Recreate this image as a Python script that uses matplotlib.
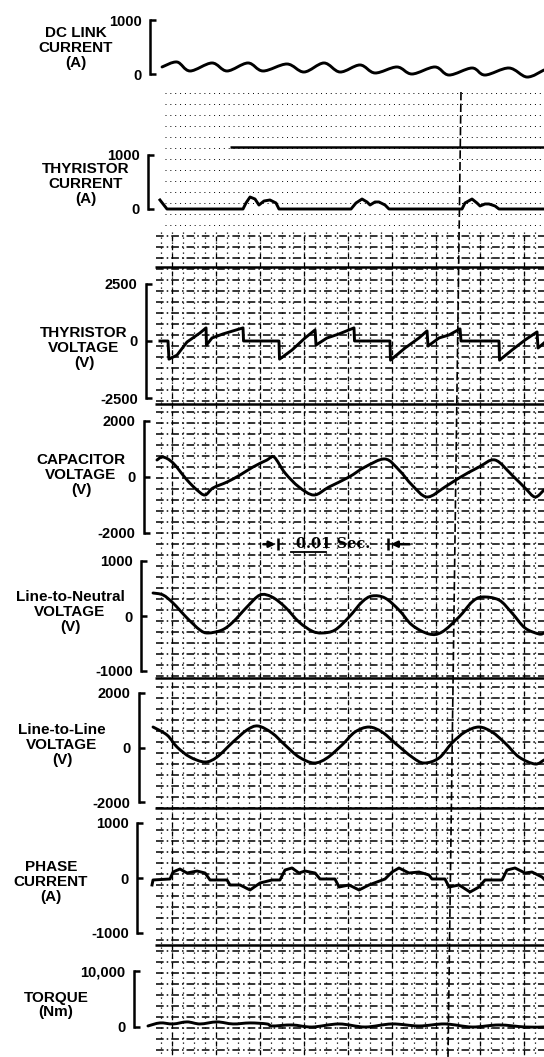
import numpy as np
import matplotlib.pyplot as plt
from matplotlib.path import Path
from matplotlib.patches import PathPatch

W, H = 544, 1057

# ---- traces, time in ms ----
dc_t = [0.64, 2.0, 3.18, 5.18, 6.55, 8.45, 9.82, 12.0, 13.55, 15.36, 16.82,
        18.64, 20.0, 22.0, 23.36, 25.45, 26.73, 28.82, 30.0, 32.18, 33.82, 35.36]
dc_i = [130, 222, 56, 204, 56, 204, 56, 185, 37, 204, 37,
        167, 19, 130, 0, 130, -19, 111, -19, 111, -56, 74]

thc_t = [0.45, 1.09, 8.0, 8.27, 8.64, 9.09, 9.45, 9.91, 10.45, 11.0, 11.27,
         17.82, 18.27, 18.82, 19.27, 19.55, 20.0, 20.36, 20.91, 21.27,
         27.91, 28.18, 28.82, 29.27, 29.55, 30.0, 30.36, 30.91, 31.27, 35.36]
thc_i = [167, 0, 0, 111, 222, 185, 74, 148, 167, 111, 0,
         0, 111, 185, 130, 74, 130, 130, 74, 0,
         0, 111, 185, 111, 56, 93, 93, 56, 0, 0]

thv_t = [0.45, 1.18, 1.27, 2.0, 2.91, 4.09, 4.64, 4.68, 5.18, 6.18, 7.09, 8.0, 8.05,
         11.27, 11.32, 12.45, 13.64, 14.55, 14.64, 15.64, 16.73, 18.09, 18.14,
         21.36, 21.41, 22.73, 24.0, 24.73, 24.82, 25.82, 26.73, 27.73, 27.82,
         31.27, 31.32, 32.45, 33.64, 34.73, 34.82, 35.36]
thv_v = [0, 0, -796, -619, -44, 354, 575, -177, 133, 309, 442, 575, 0,
         0, -796, -398, 133, 486, -177, 133, 309, 575, 0,
         0, -840, -309, 133, 442, -221, 133, 265, 530, 0,
         0, -840, -398, 44, 398, -309, -88]

cap_t = [0.18, 0.73, 1.64, 2.91, 3.82, 4.55, 5.27, 6.55, 7.73, 8.91, 10.18, 10.82,
         11.82, 13.09, 14.45, 15.82, 17.64, 19.09, 20.91, 22.18, 23.36, 24.73,
         26.36, 27.64, 29.45, 30.91, 32.45, 33.64, 34.55, 35.36]
cap_v = [607, 714, 500, -107, -464, -643, -393, -179, 71, 357, 607, 714,
         143, -357, -643, -357, 0, 357, 643, 250, -286, -714,
         -357, -36, 357, 607, 71, -393, -714, -464]

ln_t = [-0.18, 0.73, 1.64, 2.91, 4.09, 4.82, 6.09, 7.09, 8.36, 9.55, 10.64,
        11.82, 13.09, 14.27, 15.18, 16.36, 17.64, 18.82, 19.73, 20.91, 22.18,
        23.36, 24.91, 26.09, 27.64, 28.82, 29.73, 31.27, 32.45, 33.64, 34.91, 35.36]
ln_v = [418, 382, 236, -36, -255, -309, -255, -109, 164, 382, 345,
        164, -109, -273, -309, -255, -18, 255, 364, 327, 109,
        -164, -327, -291, -18, 255, 345, 291, 55, -218, -327, -309]

ll_t = [-0.18, 1.09, 2.0, 3.18, 4.55, 5.64, 7.09, 8.36, 9.36, 10.64, 11.82,
        13.09, 14.45, 15.64, 17.0, 18.18, 19.45, 20.64, 21.82, 23.36, 24.45,
        25.82, 27.0, 28.18, 29.45, 30.64, 31.82, 33.09, 34.55, 35.36]
ll_v = [752, 459, 18, -349, -532, -349, 202, 642, 789, 532, 92,
        -349, -569, -385, 92, 569, 752, 569, 165, -349, -569,
        -385, 165, 569, 752, 569, 165, -349, -606, -459]

ph_t = [-0.27, -0.18, 1.36, 1.64, 2.27, 2.91, 3.82, 4.55, 5.0, 6.55,
        6.82, 7.73, 8.64, 9.55, 10.64, 11.36, 11.82, 12.45, 13.09, 13.64,
        14.55, 15.0, 16.36, 16.73, 17.64, 18.55, 19.45, 20.91, 21.55, 22.18,
        23.09, 24.0, 24.91, 25.18, 26.36, 26.73, 27.64, 28.64, 29.45, 30.0,
        31.55, 32.0, 32.73, 33.64, 34.27, 35.18, 35.36]
ph_i = [-127, -36, -18, 109, 164, 91, 127, 91, -36, -36,
        -127, -127, -218, -91, -36, -36, 145, 182, 91, 127,
        91, -18, -18, -164, -127, -218, -127, -18, 109, 182,
        91, 109, 55, -18, -18, -164, -127, -255, -164, -36,
        -36, 145, 182, 91, 109, 18, -18]

tq_t = [-0.64, 0.45, 1.64, 2.91, 4.09, 5.64, 7.09, 8.64, 10.18, 10.64, 12.45,
        14.27, 16.73, 19.09, 21.55, 24.0, 26.36, 28.82, 31.27, 33.64, 35.36]
tq_v = [182, 727, 545, 909, 545, 909, 545, 727, 545, 182, 364,
        0, 545, 0, 545, 182, 545, 0, 364, 0, 0]

scale_start = 11.2   # ms
scale_len = 10.0     # ms  (0.01 Sec.)

# ---- figure ----
fig = plt.figure(figsize=(W / 100, H / 100), dpi=100)
fig.patch.set_facecolor('white')

# background paper grid, in pixel units
bg = fig.add_axes([0, 0, 1, 1], zorder=0)
bg.set_xlim(0, W)
bg.set_ylim(H, 0)
bg.axis('off')
bg.hlines(np.arange(93, 236, 11), 165, W, colors='k', lw=0.7,
          linestyles=(0, (1, 4)))
bg.hlines(np.arange(236, H, 11), 156, W, colors='k', lw=1.1,
          linestyles=(0, (5, 2, 1, 2)))
bg.vlines(np.arange(161, W, 11), 232, H, colors='k', lw=0.9,
          linestyles=(0, (1, 3)))
bg.vlines(np.arange(172, W, 44), 236, H, colors='k', lw=0.9,
          linestyles=(0, (4, 3)))
bg.hlines([267, 404, 678, 808, 945], 155, W, colors='k', lw=1.8)
bg.hlines([147], 230, W, colors='k', lw=1.8)
bg.plot([461, 448], [92, H], color='k', lw=1.2, ls=(0, (5, 2)))

FONT = 'Liberation Sans'

panels = [
    # label, label x, label y, bracket x, top px, bottom px, ylim, ticks, ticklabels
    ("DC LINK\nCURRENT\n(A)", 76, 48, 150, 20, 74, (0, 1000), [0, 1000], ["0", "1000"]),
    ("THYRISTOR\nCURRENT\n(A)", 86, 184, 148, 155, 209, (0, 1000), [0, 1000], ["0", "1000"]),
    ("THYRISTOR\nVOLTAGE\n(V)", 84, 348, 146, 284, 398, (-2500, 2500), [-2500, 0, 2500], ["-2500", "0", "2500"]),
    ("CAPACITOR\nVOLTAGE\n(V)", 81, 475, 144, 421, 533, (-2000, 2000), [-2000, 0, 2000], ["-2000", "0", "2000"]),
    ("Line-to-Neutral\nVOLTAGE\n(V)", 70, 612, 141, 561, 671, (-1000, 1000), [-1000, 0, 1000], ["-1000", "0", "1000"]),
    ("Line-to-Line\nVOLTAGE\n(V)", 62, 745, 139, 693, 802, (-2000, 2000), [-2000, 0, 2000], ["-2000", "0", "2000"]),
    ("PHASE\nCURRENT\n(A)", 51, 882, 137, 823, 933, (-1000, 1000), [-1000, 0, 1000], ["-1000", "0", "1000"]),
    ("TORQUE\n(Nm)", 56, 1005, 134, 971, 1027, (0, 10000), [0, 10000], ["0", "10,000"]),
]

axes = []
for label, lx, ly, bx, top, bot, ylim, ticks, tlabels in panels:
    ax = fig.add_axes([bx / W, 1 - bot / H, (W - bx) / W, (bot - top) / H], zorder=1)
    ax.patch.set_alpha(0)
    ax.set_xlim((bx - 155) / 11, (W - 155) / 11)
    ax.set_ylim(*ylim)
    for s in ['top', 'right', 'bottom']:
        ax.spines[s].set_visible(False)
    ax.spines['left'].set_linewidth(1.8)
    ax.set_xticks([])
    ax.set_yticks(ticks)
    ax.set_yticklabels(tlabels, fontfamily=FONT, fontweight='bold', fontsize=10.5)
    ax.tick_params(axis='y', direction='in', length=4, width=1.8, pad=6)
    fig.text(lx / W, 1 - ly / H, label, ha='center', va='center',
             multialignment='center', fontfamily=FONT, fontweight='bold',
             fontsize=11, linespacing=1.05)
    axes.append(ax)


def smooth(ax, t, v):
    # smooth curve through the read points (Catmull-Rom as cubic Bezier)
    p = np.column_stack([t, v]).astype(float)
    q = np.vstack([p[0], p, p[-1]])
    verts = [p[0]]
    codes = [Path.MOVETO]
    for i in range(1, len(q) - 2):
        c1 = q[i] + (q[i + 1] - q[i - 1]) / 6
        c2 = q[i + 1] - (q[i + 2] - q[i]) / 6
        verts += [c1, c2, q[i + 1]]
        codes += [Path.CURVE4] * 3
    ax.add_patch(PathPatch(Path(verts, codes), fill=False, lw=2.1,
                           edgecolor='k', capstyle='round', joinstyle='round',
                           clip_on=False, zorder=3))


kw = dict(color='k', lw=2.1, solid_joinstyle='round', clip_on=False, zorder=3)
smooth(axes[0], dc_t, dc_i)
axes[1].plot(thc_t, thc_i, **kw)
axes[2].plot(thv_t, thv_v, **kw)
smooth(axes[3], cap_t, cap_v)
smooth(axes[4], ln_t, ln_v)
smooth(axes[5], ll_t, ll_v)
axes[6].plot(ph_t, ph_i, **kw)
smooth(axes[7], tq_t, tq_v)

# time scale bar under the capacitor voltage panel
cax = axes[3]
yb = -2400
cax.annotate('', xy=(scale_start, yb), xytext=(scale_start - 1.6, yb),
             arrowprops=dict(arrowstyle='-|>', lw=1.8, color='k', mutation_scale=9),
             annotation_clip=False)
cax.annotate('', xy=(scale_start + scale_len, yb), xytext=(scale_start + scale_len + 2.2, yb),
             arrowprops=dict(arrowstyle='-|>', lw=1.8, color='k', mutation_scale=9),
             annotation_clip=False)
cax.plot([scale_start, scale_start + scale_len], [yb, yb], ls='none', marker='|',
         ms=9, mew=1.8, color='k', clip_on=False)
cax.text(scale_start + scale_len / 2, yb, "0.01 Sec.", ha='center', va='center',
         fontfamily='DejaVu Serif', fontweight='bold', fontsize=10.5, clip_on=False)
cax.plot([scale_start + 1.2, scale_start + 4.3], [yb - 280, yb - 280], color='k',
         lw=1.3, clip_on=False)

fig.savefig('out.png', dpi=100, facecolor='white')
